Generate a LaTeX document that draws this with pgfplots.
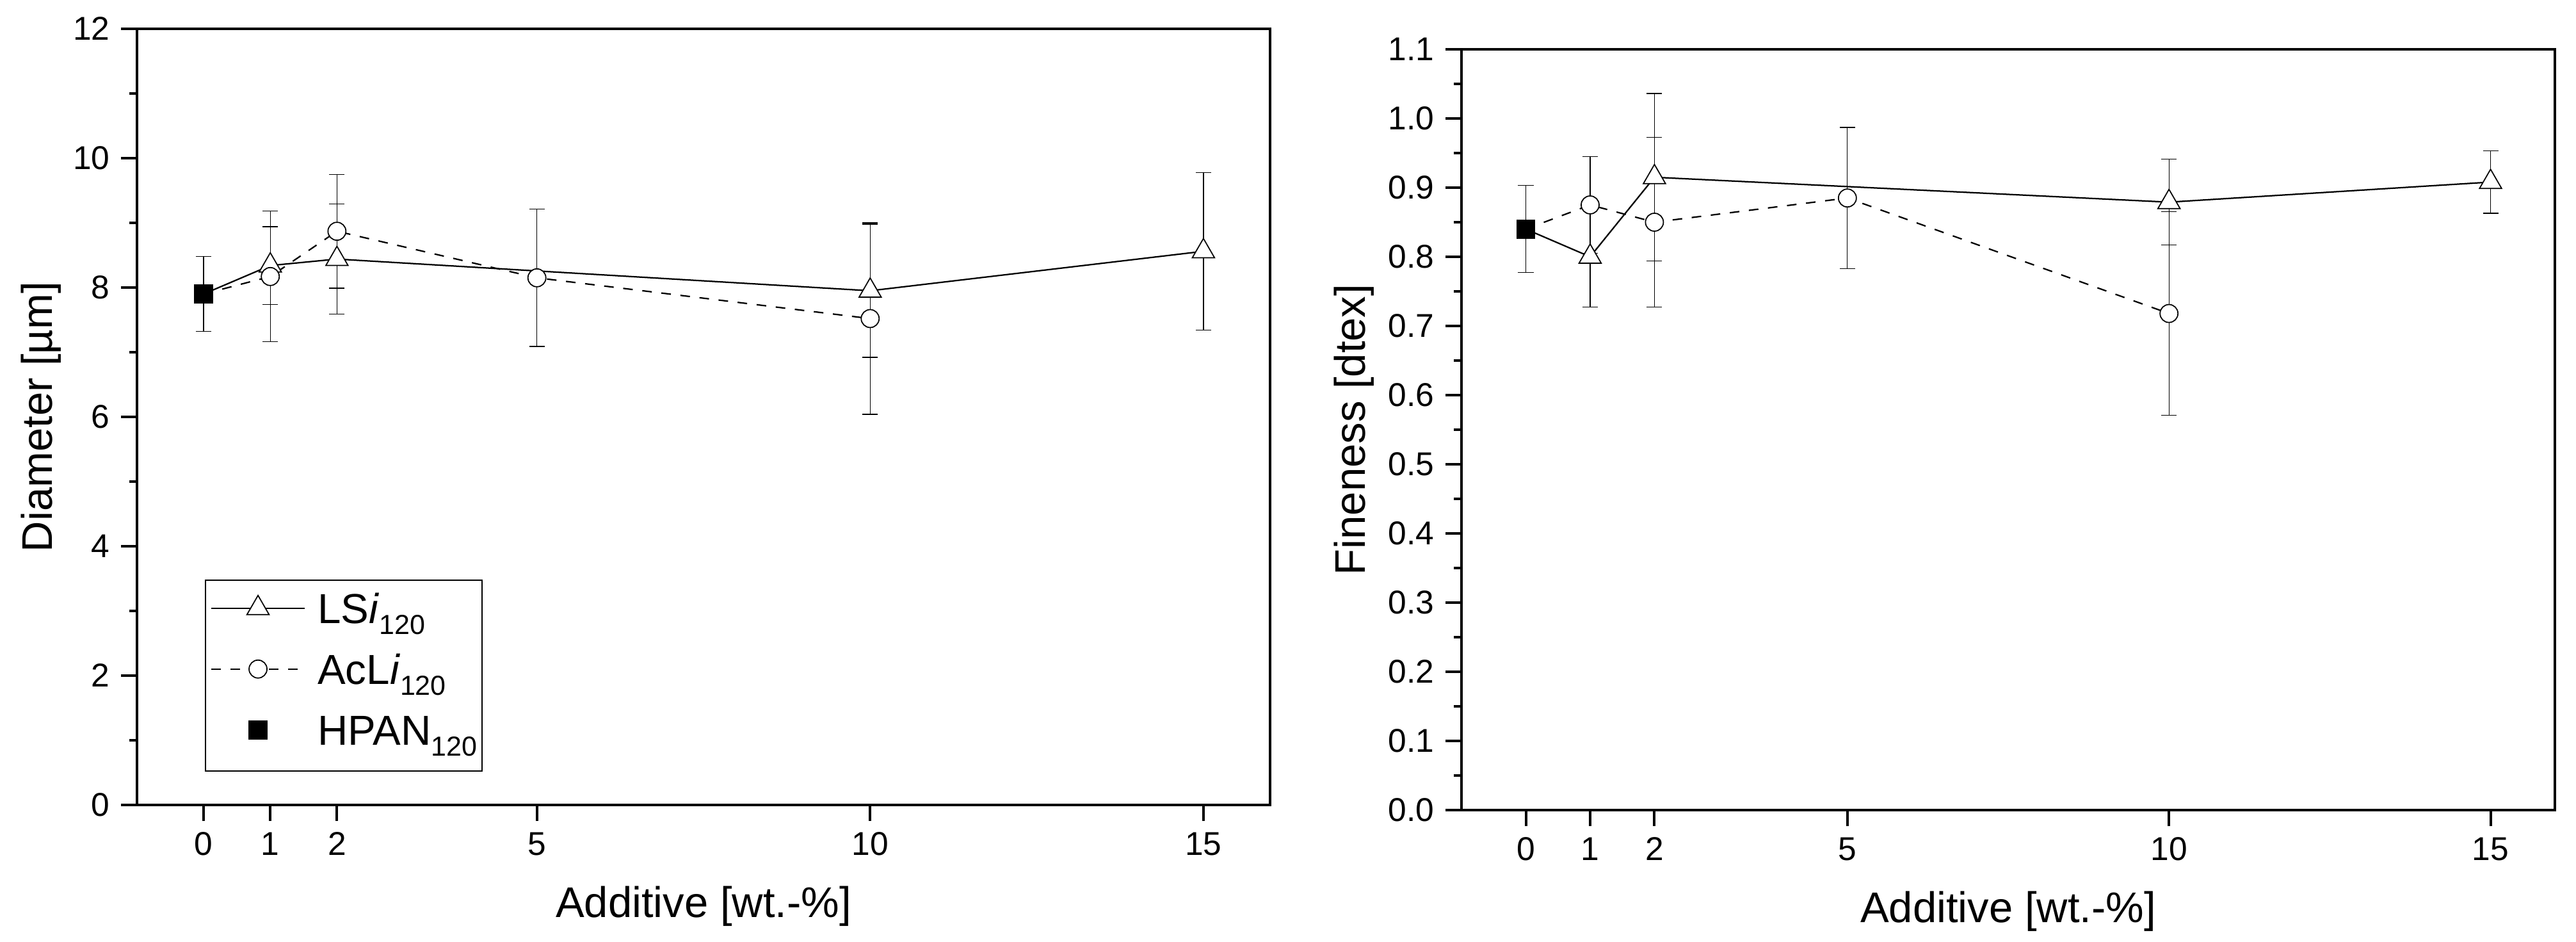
\documentclass[border=0pt]{standalone}
\usepackage{pgfplots}
\pgfplotsset{compat=1.18}
\usepackage{pgfplotstable}
\usepackage{fontspec}
\setmainfont{Liberation Sans}

\pgfplotstableread{
x y e
0 7.90 0
1 8.34 0.60
2 8.44 0.85
10 7.95 1.03
15 8.56 1.22
}\diaLS
\pgfplotstableread{
x y e
0 7.90 0
1 8.17 1.01
2 8.87 0.88
5 8.15 1.06
10 7.52 1.48
}\diaAc
\pgfplotstableread{
x y e
0 7.90 0.58
}\diaHP
\pgfplotstableread{
x y e
0 0.840 0
1 0.800 0.073
2 0.915 0.121
10 0.879 0.062
15 0.908 0.045
}\finLS
\pgfplotstableread{
x y e
0 0.840 0
1 0.875 0.070
2 0.850 0.123
5 0.885 0.102
10 0.718 0.147
}\finAc
\pgfplotstableread{
x y e
0 0.840 0.063
}\finHP

\pgfplotsset{
  myaxis/.style={
    scale only axis,
    xmin=-1, xmax=16,
    xtick={0,1,2,5,10,15},
    tick align=outside,
    tick pos=left,
    axis line style={line width=0.8bp},
    every tick/.style={black, line width=0.8bp},
    major tick length=5bp, minor tick length=2.4bp,
    minor y tick num=1,
    /pgf/number format/assume math mode=true,
    tick label style={font=\fontsize{10.3bp}{12bp}\selectfont},
    label style={font=\fontsize{13.4bp}{16bp}\selectfont},
    xlabel={Additive [wt.-\%]},
  },
  myerr/.style={
    error bars/y dir=both, error bars/y explicit,
    error bars/error bar style={line width=0.25bp, solid},
    error bars/error mark options={rotate=90, mark size=2.4bp, line width=0.25bp, solid}},
  lsstyle/.style={black, line width=0.45bp, mark=triangle*, mark size=4bp,
    mark options={fill=white, line width=0.35bp, solid},
    mark indices={2,3,4,5}, myerr},
  acstyle/.style={black, line width=0.45bp, dash pattern=on 3bp off 3bp, mark=*, mark size=2.8bp,
    mark options={fill=white, line width=0.35bp, solid},
    mark indices={2,3,4,5}, myerr},
  hpstyle/.style={black, only marks, mark=square*, mark size=2.8bp,
    mark options={fill=black, line width=0.3bp, solid}, myerr},
  lineleg/.style={legend image code/.code={%
    \draw[mark=none] (0bp,4.8bp) -- (29.2bp,4.8bp);
    \draw[only marks, mark indices={1}] plot coordinates {(14.6bp,4.8bp)};}},
  markleg/.style={legend image code/.code={%
    \path[draw=none, fill=none] (0bp,4.8bp) -- (29.2bp,4.8bp);
    \draw[only marks, mark indices={1}] plot coordinates {(14.6bp,4.8bp)};}},
}

\begin{document}
\begin{tikzpicture}
\useasboundingbox (0,0) rectangle (804.8bp,294.2bp);

\begin{axis}[myaxis,
  at={(42.8bp,42.8bp)}, anchor=south west,
  width=354bp, height=242.4bp,
  ymin=0, ymax=12, ytick={0,2,...,12},
  ylabel={Diameter [µm]},
  ylabel style={at={(axis description cs:-0.0751,0.5)}, anchor=base},
  xlabel style={at={(axis description cs:0.5,-0.1452)}, anchor=base},
  legend style={at={(axis description cs:0.06,0.2904)}, anchor=north west,
    draw=black, line width=0.3bp, inner xsep=1.6bp, inner ysep=4bp,
    row sep=5.4bp, column sep=3.8bp, cells={anchor=base west},
    nodes={inner sep=0pt, text height=9.6bp, text depth=4bp,
      font=\fontsize{13.1bp}{15bp}\selectfont}},
]
\addplot[lsstyle, lineleg] table[x=x,y=y,y error=e]{\diaLS};
\addlegendentry{LS\textit{i}\raisebox{-3.4bp}{\fontsize{8.6bp}{9bp}\selectfont 120}}
\addplot[acstyle, lineleg] table[x=x,y=y,y error=e]{\diaAc};
\addlegendentry{AcL\textit{i}\raisebox{-3.4bp}{\fontsize{8.6bp}{9bp}\selectfont 120}}
\addplot[hpstyle, markleg] table[x=x,y=y,y error=e]{\diaHP};
\addlegendentry{HPAN\raisebox{-3.4bp}{\fontsize{8.6bp}{9bp}\selectfont 120}}
\end{axis}

\begin{axis}[myaxis,
  at={(456.6bp,41.2bp)}, anchor=south west,
  width=341.6bp, height=237.6bp,
  ymin=0, ymax=1.1, ytick={0,0.1,0.2,0.3,0.4,0.5,0.6,0.7,0.8,0.9,1.0,1.1},
  yticklabel style={/pgf/number format/.cd, fixed, fixed zerofill, precision=1},
  ylabel={Fineness [dtex]},
  ylabel style={at={(axis description cs:-0.0884,0.5)}, anchor=base},
  xlabel style={at={(axis description cs:0.5,-0.148)}, anchor=base},
]
\addplot[lsstyle] table[x=x,y=y,y error=e]{\finLS};
\addplot[acstyle] table[x=x,y=y,y error=e]{\finAc};
\addplot[hpstyle] table[x=x,y=y,y error=e]{\finHP};
\end{axis}
\end{tikzpicture}
\end{document}
